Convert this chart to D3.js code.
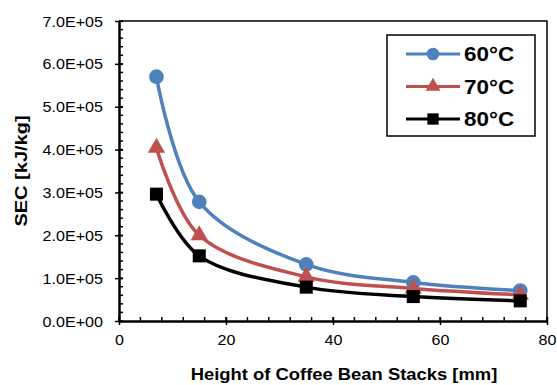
<!DOCTYPE html>
<html>
<head>
<meta charset="utf-8">
<script src="https://cdn.jsdelivr.net/npm/d3@7"></script>
<style>
  html, body { margin: 0; padding: 0; background: #fff; overflow: hidden; }
  svg { display: block; font-family: "Liberation Sans", Arial, sans-serif; }
</style>
</head>
<body>
<div id="chart"></div>
<script>
// data
const heights = [7, 15, 35, 55, 75];
const sec60 = [570000, 278000, 132000, 90000, 71000];
const sec70 = [404000, 200000, 103000, 76000, 61000];
const sec80 = [296000, 152000, 79000, 57000, 47000];
const seriesNames = ['60°C', '70°C', '80°C'];
const xTicks = [0, 20, 40, 60, 80];
const yTicks = [0, 100000, 200000, 300000, 400000, 500000, 600000, 700000];

const width = 557;
const height = 385;
const margin = { top: 21, right: 10, bottom: 64, left: 119 };
const innerWidth = 547 - margin.left;
const innerHeight = 321 - margin.top;
const stretch = 1.15; // reference text is a bit wider than plain Arial

const svg = d3.select('#chart')
  .append('svg')
  .attr('width', width)
  .attr('height', height);

const g = svg.append('g')
  .attr('transform', `translate(${margin.left},${margin.top})`);

const x = d3.scaleLinear().domain([0, 80]).range([0, innerWidth]);
const y = d3.scaleLinear().domain([0, 700000]).range([innerHeight, 0]);

function sci(d) {
  if (d === 0) return '0.0E+00';
  const e = Math.floor(Math.log10(d));
  const m = d / Math.pow(10, e);
  return m.toFixed(1) + 'E+' + String(e).padStart(2, '0');
}

// plot frame (top + right)
g.append('path')
  .attr('d', `M0,0H${innerWidth}V${innerHeight}`)
  .attr('fill', 'none')
  .attr('stroke', '#000')
  .attr('stroke-width', 1.5);

// minor ticks (inside)
const xMinor = d3.range(0, 80.01, 4);
g.append('g').selectAll('line')
  .data(xMinor)
  .enter().append('line')
  .attr('x1', d => x(d)).attr('x2', d => x(d))
  .attr('y1', innerHeight).attr('y2', innerHeight - 4)
  .attr('stroke', '#000').attr('stroke-width', 1.5);

const yMinor = d3.range(0, 700001, 20000);
g.append('g').selectAll('line')
  .data(yMinor)
  .enter().append('line')
  .attr('x1', 0).attr('x2', 4)
  .attr('y1', d => y(d)).attr('y2', d => y(d))
  .attr('stroke', '#000').attr('stroke-width', 1.5);

// x axis
const xAxis = g.append('g')
  .attr('transform', `translate(0,${innerHeight})`)
  .call(d3.axisBottom(x).tickValues(xTicks).tickSizeInner(4).tickSizeOuter(0).tickPadding(10).tickFormat(d3.format('d')));
xAxis.select('.domain').attr('stroke-width', 2.5);
xAxis.selectAll('.tick line').attr('y1', -4).attr('stroke-width', 1.5);
xAxis.selectAll('.tick text')
  .attr('font-size', 14)
  .attr('fill', '#000')
  .attr('dy', '0.71em')
  .attr('transform', `scale(${stretch},1)`)
  .attr('x', 0);

// y axis
const yAxis = g.append('g')
  .call(d3.axisLeft(y).tickValues(yTicks).tickSizeInner(4).tickSizeOuter(0).tickPadding(12).tickFormat(sci));
yAxis.select('.domain').attr('stroke-width', 2.5);
yAxis.selectAll('.tick line').attr('x1', 4).attr('stroke-width', 1.5);
yAxis.selectAll('.tick text')
  .attr('font-size', 14)
  .attr('fill', '#000')
  .attr('dy', '0.36em')
  .attr('x', 0)
  .attr('transform', `translate(-16,0) scale(${stretch},1)`);

// axis titles
svg.append('text')
  .attr('transform', `translate(344,379.5) scale(${stretch},1)`)
  .attr('text-anchor', 'middle')
  .attr('font-size', 16)
  .attr('font-weight', 'bold')
  .text('Height of Coffee Bean Stacks [mm]');

svg.append('text')
  .attr('transform', 'translate(27,171) rotate(-90) scale(1.25,1)')
  .attr('text-anchor', 'middle')
  .attr('font-size', 16)
  .attr('font-weight', 'bold')
  .text('SEC [kJ/kg]');

// series
const series = [
  { name: seriesNames[0], values: sec60, color: '#4F81BD', symbol: d3.symbolCircle, size: 170 },
  { name: seriesNames[1], values: sec70, color: '#C0504D', symbol: d3.symbolTriangle, size: 130 },
  { name: seriesNames[2], values: sec80, color: '#000000', symbol: d3.symbolSquare, size: 170 }
];

const line = d3.line()
  .x(d => x(d[0]))
  .y(d => y(d[1]))
  .curve(d3.curveCatmullRom.alpha(0.5));

series.forEach(s => {
  const pts = heights.map((h, i) => [h, s.values[i]]);
  g.append('path')
    .datum(pts)
    .attr('d', line)
    .attr('fill', 'none')
    .attr('stroke', s.color)
    .attr('stroke-width', 3.5);
});

series.forEach(s => {
  const pts = heights.map((h, i) => [h, s.values[i]]);
  g.append('g').selectAll('path')
    .data(pts)
    .enter().append('path')
    .attr('transform', d => `translate(${x(d[0])},${y(d[1])})`)
    .attr('d', d3.symbol().type(s.symbol).size(s.size))
    .attr('fill', s.color);
});

// legend
const legend = svg.append('g');
legend.append('rect')
  .attr('x', 387).attr('y', 35)
  .attr('width', 148).attr('height', 101)
  .attr('fill', '#fff')
  .attr('stroke', '#000')
  .attr('stroke-width', 1.5);

series.forEach((s, i) => {
  const ly = 54 + i * 32.5;
  legend.append('line')
    .attr('x1', 406).attr('x2', 460)
    .attr('y1', ly).attr('y2', ly)
    .attr('stroke', s.color)
    .attr('stroke-width', 3);
  legend.append('path')
    .attr('transform', `translate(433,${ly})`)
    .attr('d', d3.symbol().type(s.symbol).size(s.size * 0.75))
    .attr('fill', s.color);
  legend.append('text')
    .attr('transform', `translate(464,${ly + 7}) scale(${stretch},1)`)
    .attr('font-size', 19.5)
    .attr('font-weight', 'bold')
    .text(s.name);
});
</script>
</body>
</html>
